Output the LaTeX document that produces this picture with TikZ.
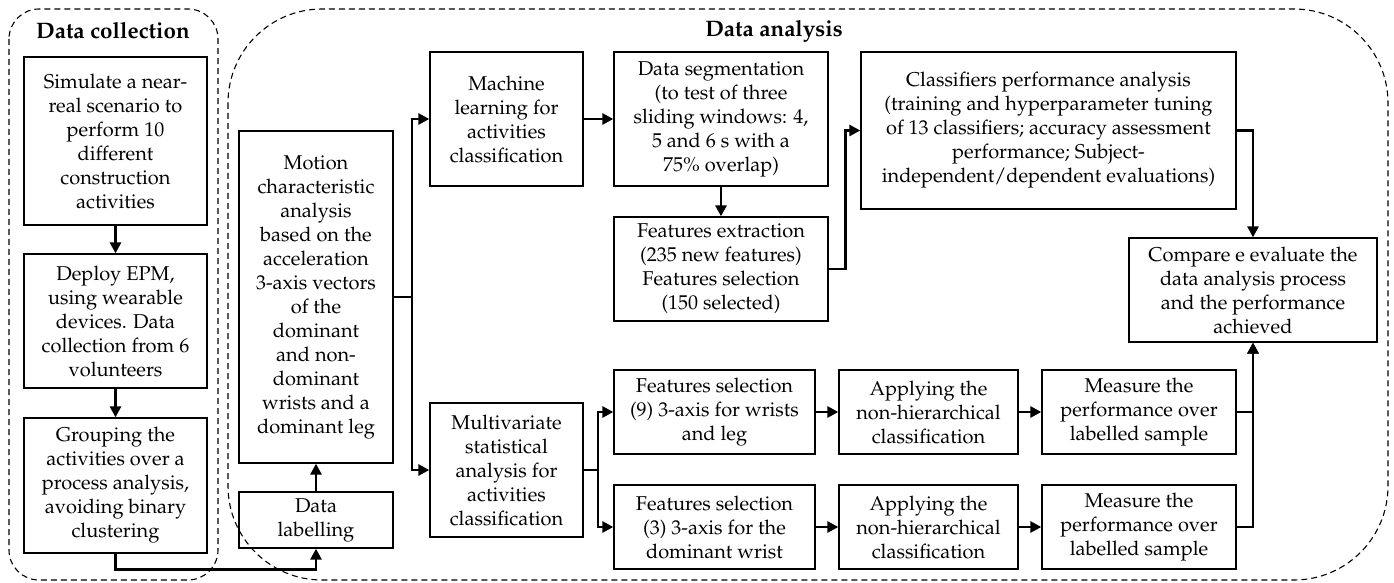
\documentclass[tikz,border=0pt]{standalone}
\usepackage[T1]{fontenc}
\usepackage{mathpazo}
\usetikzlibrary{arrows.meta}

\begin{document}
\begin{tikzpicture}[x=0.5pt,y=-0.5pt] % схема: сбор и анализ данных
\tikzstyle{blok} = [draw, line width=0.65pt, align=center, inner sep=0pt] % блок с текстом
\tikzstyle{strelka} = [line width=1.35pt, -{Triangle[length=5.5pt,width=5.5pt]}] % жирная стрелка
\tikzstyle{gruppa} = [dash pattern=on 3pt off 2pt, line width=0.55pt] % пунктирная рамка группы
\tikzstyle{zagolovok} = [font=\fontsize{11.2}{13}\selectfont\bfseries, inner sep=0pt] % заголовок группы

\useasboundingbox (0,0) rectangle (1394,583);

% рамки групп
\draw[gruppa, rounded corners=15pt] (9,9) rectangle (218,580);
\draw[gruppa, rounded corners=47pt] (228,9) rectangle (1388,580);
\node[zagolovok] (tcol) at (113,31) {Data collection};
\node[zagolovok] (tan) at (774,31) {Data analysis};

% сбор данных
\node[blok, minimum width=91.5pt, minimum height=84pt] (sim) at (115.5,141) {Simulate a near-\\real scenario to\\perform 10\\different\\construction\\activities};
\node[blok, minimum width=91.5pt, minimum height=67pt] (deploy) at (115.5,321) {Deploy EPM,\\using wearable\\devices. Data\\collection from 6\\volunteers};
\node[blok, minimum width=91.5pt, minimum height=67.5pt] (group) at (115.5,485.5) {Grouping the\\activities over a\\process analysis,\\avoiding binary\\clustering};

% анализ данных
\node[blok, minimum width=77pt, minimum height=166pt] (motion) at (316,297) {Motion\\characteristic\\analysis\\based on the\\acceleration\\3-axis vectors\\of the\\dominant\\and non-\\dominant\\wrists and a\\dominant leg};
\node[blok, minimum width=77pt, minimum height=28pt] (label) at (316,520) {Data\\labelling};
\node[blok, minimum width=76.5pt, minimum height=67pt] (ml) at (506.5,119) {Machine\\learning for\\activities\\classification};
\node[blok, minimum width=76.5pt, minimum height=67pt] (msa) at (506.5,470) {Multivariate\\statistical\\analysis for\\activities\\classification};
\node[blok, minimum width=107pt, minimum height=67pt] (seg) at (721,119) {Data segmentation\\(to test of three\\sliding windows: 4,\\5 and 6 s with a\\75\% overlap)};
\node[blok, minimum width=107pt, minimum height=52pt] (fe) at (721,269) {Features extraction\\(235 new features)\\Features selection\\(150 selected)};
\node[blok, minimum width=187.5pt, minimum height=78.5pt] (clf) at (1048.5,130.5) {Classifiers performance analysis\\(training and hyperparameter tuning\\of 13 classifiers; accuracy assessment\\performance; Subject-\\independent/dependent evaluations)};
\node[blok, minimum width=124pt, minimum height=52pt] (cmp) at (1253,290) {Compare e evaluate the\\data analysis process\\and the performance\\achieved};

% две ветки многомерного анализа
\node[blok, minimum width=100.5pt, minimum height=42pt] (fs9) at (714.5,412) {Features selection\\(9) 3-axis for wrists\\and leg};
\node[blok, minimum width=100.5pt, minimum height=42pt] (fs3) at (714.5,527) {Features selection\\(3) 3-axis for the\\dominant wrist};
\node[blok, minimum width=89.5pt, minimum height=42pt] (ap9) at (928.5,412) {Applying the\\non-hierarchical\\classification};
\node[blok, minimum width=89.5pt, minimum height=42pt] (ap3) at (928.5,527) {Applying the\\non-hierarchical\\classification};
\node[blok, minimum width=97pt, minimum height=42pt] (ms9) at (1139,412) {Measure the\\performance over\\labelled sample};
\node[blok, minimum width=97pt, minimum height=42pt] (ms3) at (1139,527) {Measure the\\performance over\\labelled sample};

\coordinate (r1) at (412,297); % развилка после motion
\coordinate (r2) at (598,470); % развилка после msa

% стрелки
\draw[strelka] (sim) -- (deploy);
\draw[strelka] (deploy) -- (group);
\draw[strelka] (group.south) -- ++(0,16) -| (label.south);
\draw[strelka] (label) -- (motion);
\draw[strelka] (motion.east) -- (r1) |- (ml);
\draw[strelka] (motion.east) -- (r1) |- (msa);
\draw[strelka] (ml) -- (seg);
\draw[strelka] (seg) -- (fe);
\draw[strelka] (fe.east) -- ++(17,0) |- (clf.west);
\draw[strelka] (clf.east) -| (cmp.north);
\draw[strelka] (msa.east) -- (r2) |- (fs9);
\draw[strelka] (msa.east) -- (r2) |- (fs3);
\draw[strelka] (fs9) -- (ap9);
\draw[strelka] (ap9) -- (ms9);
\draw[strelka] (fs3) -- (ap3);
\draw[strelka] (ap3) -- (ms3);
\draw[strelka] (ms9.east) -| (cmp.south);
\draw[strelka] (ms3.east) -| (cmp.south);
\end{tikzpicture}
\end{document}
